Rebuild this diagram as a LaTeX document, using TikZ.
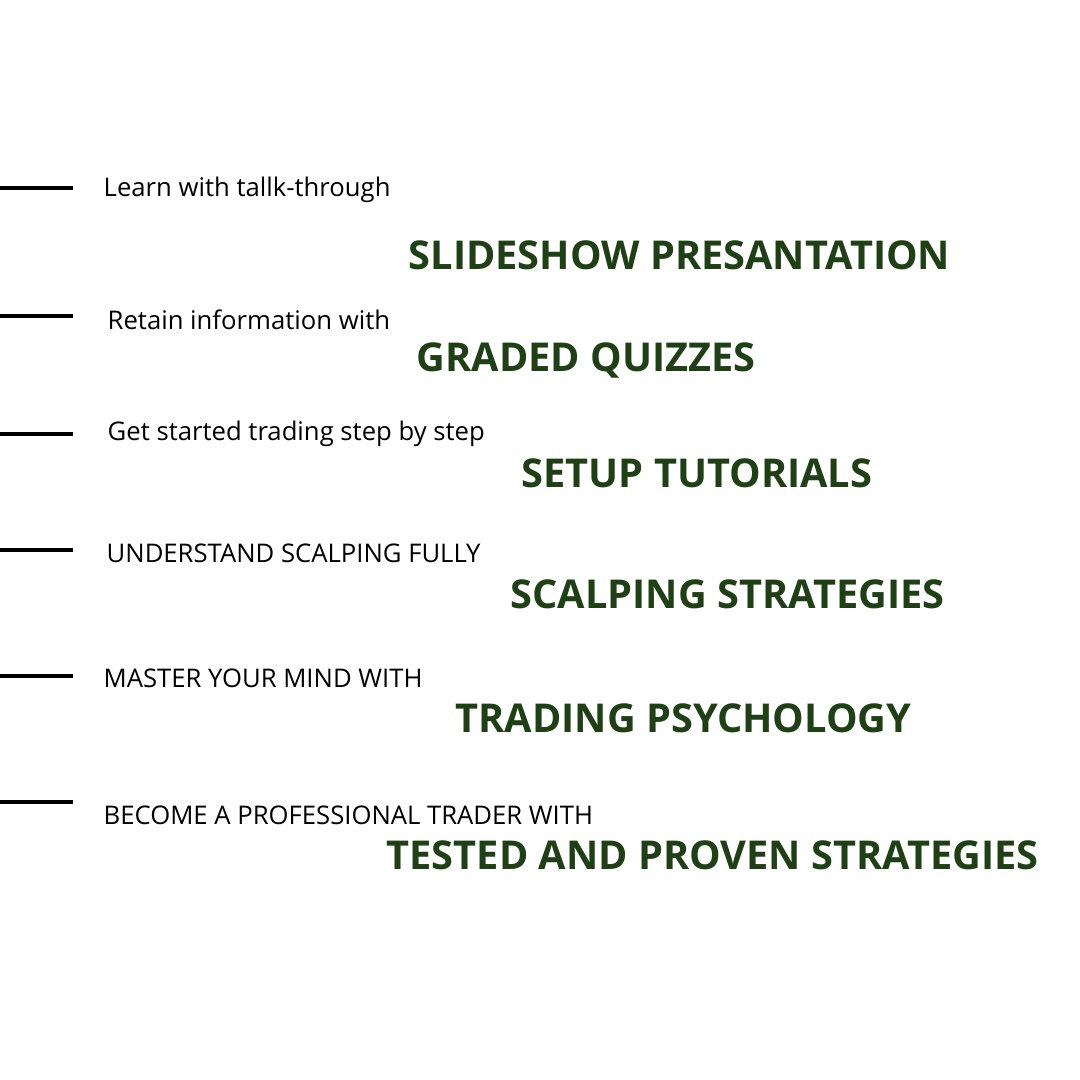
\documentclass[tikz,border=0pt]{standalone}
\usepackage{fontspec}
\setmainfont{Open Sans}
\definecolor{leaf}{HTML}{1F4015}
\tikzset{
  tick/.style={line width=0.9pt,black},
  lead/.style={anchor=west,inner sep=0pt,font=\fontsize{7.3}{8}\selectfont},
  head/.style={anchor=west,inner sep=0pt,text=leaf,font=\fontsize{11.3}{12}\selectfont\bfseries}
}
\begin{document}
\begin{tikzpicture}[x=0.01cm,y=-0.01cm]
	\useasboundingbox (0,0) rectangle (1080,1080);
	% rows
	\foreach \y/\n in {188/a,316/b,434/c,550/d,676/e,802/f}{
		\coordinate (\n0) at (0,\y);
		\coordinate (\n1) at (73,\y);
		\draw[tick] (\n0) -- (\n1);
	}
	\node[lead] (la) at (103,190) {Learn with tallk-through};
	\node[lead] (lb) at (107,320) {Retain information with};
	\node[lead] (lc) at (107,434) {Get started trading step by step};
	\node[lead] (ld) at (106,553) {UNDERSTAND SCALPING FULLY};
	\node[lead] (le) at (103,678) {MASTER YOUR MIND WITH};
	\node[lead] (lf) at (103,815) {BECOME A PROFESSIONAL TRADER WITH};
	\node[head] (ha) at (408,255) {SLIDESHOW PRESANTATION};
	\node[head] (hb) at (416,360) {GRADED QUIZZES};
	\node[head] (hc) at (521,473) {SETUP TUTORIALS};
	\node[head] (hd) at (510,594) {SCALPING STRATEGIES};
	\node[head] (he) at (455,718) {TRADING PSYCHOLOGY};
	\node[head] (hf) at (386,855) {TESTED AND PROVEN STRATEGIES};
\end{tikzpicture}
\end{document}
